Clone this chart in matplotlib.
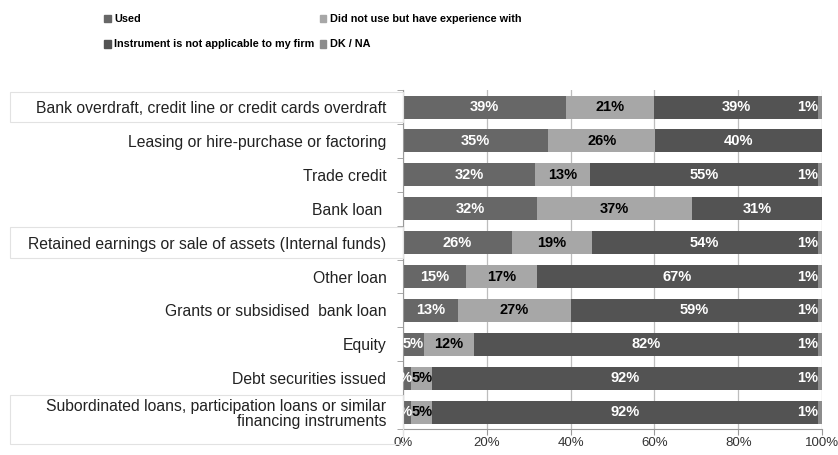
import matplotlib.pyplot as plt
import matplotlib.transforms as mtransforms
from matplotlib.patches import Rectangle, Patch
import numpy as np

plt.rcParams['font.family'] = ['Liberation Sans', 'DejaVu Sans']

# Financing instruments, top to bottom
categories = [
    "Bank overdraft, credit line or credit cards overdraft",
    "Leasing or hire-purchase or factoring",
    "Trade credit",
    "Bank loan ",
    "Retained earnings or sale of assets (Internal funds)",
    "Other loan",
    "Grants or subsidised  bank loan",
    "Equity",
    "Debt securities issued",
    "Subordinated loans, participation loans or similar\nfinancing instruments",
]

# shares in % of firms
used = [39, 34.6, 31.6, 32, 26, 15, 13, 5, 2, 2]
did_not_use = [21, 25.6, 12.9, 37, 19, 17, 27, 12, 5, 5]
not_applicable = [39, 39.8, 54.6, 31, 54, 67, 59, 82, 92, 92]
dk_na = [1, 0, 0.9, 0, 1, 1, 1, 1, 1, 1]

series_names = ["Used", "Did not use but have experience with",
                "Instrument is not applicable to my firm", "DK / NA"]
colors = ["#676767", "#a7a7a7", "#535353", "#8c8c8c"]
text_colors = ["white", "black", "white", "white"]

fig = plt.figure(figsize=(8.38, 4.55), dpi=100)
ax = fig.add_axes([0.481, 0.057, 0.5, 0.745])

y = np.arange(len(categories))
series = [used, did_not_use, not_applicable, dk_na]
left = np.zeros(len(categories))
for k, (vals, col, tcol) in enumerate(zip(series, colors, text_colors)):
    vals = np.array(vals, dtype=float)
    ax.barh(y, vals, left=left, height=0.68, color=col, zorder=2)
    for i, v in enumerate(vals):
        if v <= 0:
            continue
        lab = f"{v:.0f}%"
        if k == 3:
            # tiny last segment: keep its label inside the plot
            ax.text(99, y[i], lab, ha='right', va='center',
                    color=tcol, fontsize=10.5, fontweight='bold', zorder=3)
        elif v < 3:
            # too narrow for the label, let it hang to the left
            ax.text(left[i] + v + 0.3, y[i], lab, ha='right', va='center',
                    color=tcol, fontsize=10.5, fontweight='bold', zorder=3)
        else:
            ax.text(left[i] + v / 2, y[i], lab, ha='center', va='center',
                    color=tcol, fontsize=10.5, fontweight='bold', zorder=3)
    left += vals

ax.set_xlim(0, 100)
ax.set_ylim(len(categories) - 0.5, -0.5)
ax.set_xticks(np.arange(0, 101, 20))
ax.set_xticklabels([f"{t}%" for t in range(0, 101, 20)], fontsize=9.5, color='#333333')
ax.set_yticks(y)
ax.set_yticklabels(categories, fontsize=11.3, color='#222222', linespacing=1.05)
ax.set_yticks(np.arange(-0.5, len(categories), 1), minor=True)
ax.tick_params(axis='y', which='major', length=0, pad=12)
ax.tick_params(axis='y', which='minor', length=4, color='#999999')
ax.tick_params(axis='x', length=4, color='#999999', pad=2)
ax.grid(axis='x', color='#bdbdbd', linewidth=0.9, zorder=0)
for s in ['top', 'right']:
    ax.spines[s].set_visible(False)
for s in ['left', 'bottom']:
    ax.spines[s].set_color('#999999')

# light frames around some of the row labels
trans = mtransforms.blended_transform_factory(fig.transFigure, ax.transData)
boxes = {0: (0.45, 0.45), 4: (0.45, 0.45), 9: (0.5, 0.95)}
for i, (up, down) in boxes.items():
    r = Rectangle((10 / 838, i - up), (403 - 10) / 838, up + down, transform=trans,
                  fill=False, ec='#e2e2e2', lw=0.8, clip_on=False)
    fig.add_artist(r)

handles = [Patch(color=c) for c in colors]
order = [0, 2, 1, 3]
fig.legend([handles[k] for k in order], [series_names[k] for k in order],
           ncol=2, loc='upper left', bbox_to_anchor=(0.113, 0.99), frameon=False,
           handlelength=0.6, handleheight=0.75, handletextpad=0.3, columnspacing=0.5,
           labelspacing=1.4,
           prop={'weight': 'bold', 'size': 7.8})

fig.savefig("out.png", dpi=100)
